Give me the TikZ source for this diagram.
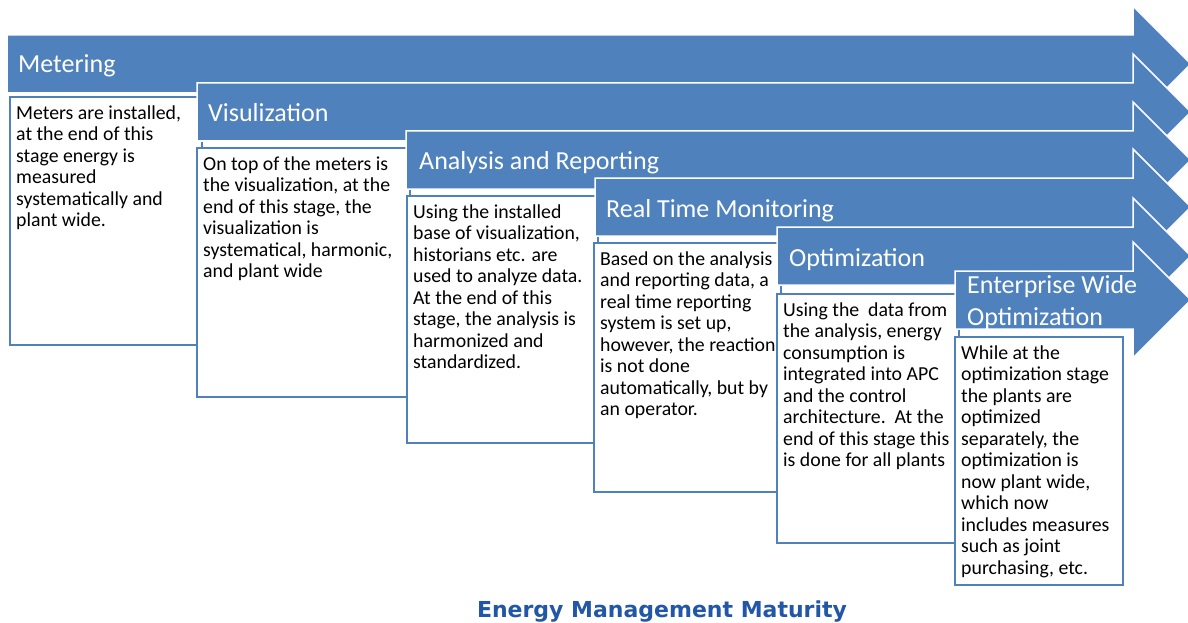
\documentclass[tikz,border=0pt]{standalone}
\usepackage{fontspec}
\setmainfont{Carlito}
\newfontfamily\capfont{DejaVu Sans}
\definecolor{arrowblue}{HTML}{4F81BD}
\definecolor{capblue}{HTML}{2256A6}
\tikzset{
  stagearrow/.style={fill=arrowblue, draw=white, line width=1.5pt, line join=miter},
  stagebox/.style={fill=white, draw=arrowblue, line width=2.8pt},
  stagetitle/.style={anchor=base west, inner sep=0pt, text=white, font=\fontsize{26}{32}\selectfont, align=left},
  stagetext/.style={anchor=north west, inner sep=0pt, text=black, font=\fontsize{19.8}{21.5}\selectfont, align=left},
}
\newcommand{\stagearrowpath}[2]{% #1 left x, #2 centre y
  \path[stagearrow] (#1,#2-29) -- (1133,#2-29) -- (1133,#2-58) -- (1191,#2) -- (1133,#2+58) -- (1133,#2+29) -- (#1,#2+29) -- cycle;}
\begin{document}
\begin{tikzpicture}[x=1pt,y=-1pt]
\useasboundingbox[fill=white] (0,0) rectangle (1188,623);
% stage 1
\stagearrowpath{7}{64}
\node[stagetitle] (t1) at (18,73) {Metering};
\draw[stagebox] (10,97) rectangle (202,345);
\node[stagetext] (d1) at (16,104) {\strut Meters are installed,\\at the end of this\\stage energy is\\measured\\systematically and\\plant wide.};
% stage 2
\stagearrowpath{197}{112}
\node[stagetitle] (t2) at (208,122) {Visulization};
\draw[stagebox] (197,148) rectangle (410,397);
\node[stagetext] (d2) at (203,155) {\strut On top of the meters is\\the visualization, at the\\end of this stage, the\\visualization is\\systematical, harmonic,\\and plant wide};
% stage 3
\stagearrowpath{406}{160}
\node[stagetitle] (t3) at (419,169) {Analysis and Reporting};
\draw[stagebox] (407,196) rectangle (598,443);
\node[stagetext] (d3) at (413,203) {\strut Using the installed\\base of visualization,\\historians etc. are\\used to analyze data.\\At the end of this\\stage, the analysis is\\harmonized and\\standardized.};
% stage 4
\stagearrowpath{595}{207}
\node[stagetitle] (t4) at (606,217) {Real Time Monitoring};
\draw[stagebox] (594,243) rectangle (781,492);
\node[stagetext] (d4) at (600,250) {\strut Based on the analysis\\and reporting data, a\\real time reporting\\system is set up,\\however, the reaction\\is not done\\automatically, but by\\an operator.};
% stage 5
\stagearrowpath{777}{256}
\node[stagetitle] (t5) at (789,266) {Optimization};
\draw[stagebox] (777,294) rectangle (959,543);
\node[stagetext] (d5) at (783,301) {\strut Using the\ \ data from\\the analysis, energy\\consumption is\\integrated into APC\\and the control\\architecture.\ \ At the\\end of this stage this\\is done for all plants};
% stage 6
\stagearrowpath{955}{300}
\node[stagetitle] (t6) at (967,325) {Enterprise Wide\\Optimization};
\draw[stagebox] (955,337) rectangle (1123,585);
\node[stagetext] (d6) at (961,344) {\strut While at the\\optimization stage\\the plants are\\optimized\\separately, the\\optimization is\\now plant wide,\\which now\\includes measures\\such as joint\\purchasing, etc.};
% caption
\node[anchor=base, inner sep=0pt, text=capblue, font=\capfont\bfseries\fontsize{22}{26}\selectfont] (cap) at (662,617) {Energy Management Maturity};
\end{tikzpicture}
\end{document}
